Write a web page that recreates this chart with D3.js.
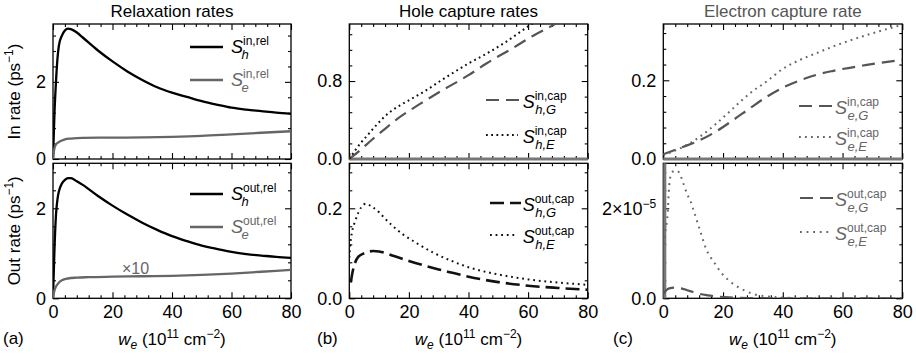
<!DOCTYPE html>
<html>
<head>
<meta charset="utf-8">
<script src="https://cdn.jsdelivr.net/npm/d3@7"></script>
<style>
  body { margin: 0; background: #fff; }
  svg text { font-family: "Liberation Sans", Arial, sans-serif; }
</style>
</head>
<body>
<svg id="chart" width="916" height="358"></svg>
<script>
// ---- data (x = w_e in 1e11 cm^-2) ----
const relInHoleX = [0, 0.5, 1, 1.5, 2, 3, 4, 5, 6, 8, 10, 15, 20, 25, 30, 35, 40, 45, 50, 55, 60, 65, 70, 75, 80];
const relInHoleY = [0, 1.2, 2.0, 2.6, 2.95, 3.2, 3.33, 3.38, 3.37, 3.28, 3.15, 2.82, 2.53, 2.27, 2.05, 1.86, 1.72, 1.61, 1.5, 1.41, 1.33, 1.28, 1.24, 1.2, 1.17];
const relInElecX = [0, 0.3, 0.6, 1, 2, 3, 4, 6, 10, 20, 30, 40, 50, 60, 70, 80];
const relInElecY = [0, 0.2, 0.31, 0.38, 0.44, 0.48, 0.51, 0.53, 0.55, 0.555, 0.56, 0.575, 0.6, 0.64, 0.68, 0.72];

const relOutHoleX = [0, 0.5, 1, 1.5, 2, 3, 4, 5, 6, 8, 10, 15, 20, 25, 30, 35, 40, 45, 50, 55, 60, 65, 70, 75, 80];
const relOutHoleY = [0, 1.1, 1.85, 2.2, 2.38, 2.55, 2.63, 2.67, 2.67, 2.6, 2.52, 2.28, 2.06, 1.86, 1.68, 1.52, 1.38, 1.27, 1.17, 1.1, 1.03, 0.98, 0.95, 0.92, 0.9];
const relOutElecX = [0, 0.3, 0.6, 1, 2, 3, 5, 8, 12, 20, 30, 40, 50, 60, 70, 80];
const relOutElecY = [0, 0.12, 0.2, 0.26, 0.35, 0.4, 0.44, 0.46, 0.47, 0.48, 0.49, 0.5, 0.52, 0.55, 0.59, 0.63]; // x10

const capInHoleGX = [0, 4, 7.5, 12, 16, 24, 31.5, 40, 46, 55, 62, 67, 80];
const capInHoleGY = [0, 0.1, 0.195, 0.31, 0.41, 0.57, 0.71, 0.86, 0.98, 1.14, 1.27, 1.35, 1.58];
const capInHoleEX = [0, 2, 4, 6, 8, 11, 14, 17, 21, 25, 31.5, 40, 46, 52, 60, 70, 80];
const capInHoleEY = [0, 0.09, 0.17, 0.24, 0.31, 0.41, 0.49, 0.55, 0.62, 0.69, 0.82, 0.98, 1.08, 1.19, 1.36, 1.55, 1.73];

const capOutHoleGX = [0.5, 1, 2, 3, 5, 8, 10, 15, 20, 25, 30, 35, 40, 50, 60, 70, 80];
const capOutHoleGY = [0.035, 0.055, 0.08, 0.092, 0.1, 0.105, 0.104, 0.094, 0.083, 0.073, 0.064, 0.056, 0.048, 0.036, 0.028, 0.023, 0.019];
const capOutHoleEX = [0, 0.5, 1, 2, 3, 4, 5.5, 7.5, 10, 12, 14.5, 18, 22, 28, 34, 40, 50, 60, 70, 80];
const capOutHoleEY = [0.09, 0.13, 0.15, 0.172, 0.19, 0.202, 0.21, 0.204, 0.191, 0.177, 0.161, 0.142, 0.125, 0.102, 0.084, 0.069, 0.053, 0.042, 0.035, 0.03];

const capInElecGX = [0, 6.7, 12.3, 17.9, 23.4, 29, 34.6, 40.2, 45.8, 51.3, 56.9, 68.1, 80];
const capInElecGY = [0.012, 0.031, 0.048, 0.071, 0.099, 0.129, 0.158, 0.182, 0.2, 0.214, 0.224, 0.239, 0.252];
const capInElecEX = [0, 6.7, 12.3, 17.9, 23.4, 29, 34.6, 40.2, 45.8, 51.3, 56.9, 68.1, 80];
const capInElecEY = [0.01, 0.031, 0.057, 0.091, 0.129, 0.167, 0.197, 0.23, 0.252, 0.269, 0.286, 0.315, 0.341];

// units of 1e-5 ps^-1
const capOutElecGX = [0, 1, 2, 4, 6, 8, 10, 12, 15, 18, 22, 26, 30, 40, 60, 80];
const capOutElecGY = [0.1, 0.18, 0.22, 0.24, 0.22, 0.18, 0.14, 0.1, 0.065, 0.04, 0.02, 0.01, 0.004, 0, 0, 0];
const capOutElecEX = [0.3, 0.7, 1.1, 1.5, 1.7, 2.0, 2.3, 3.1, 4.2, 5.4, 6.2, 7, 8, 9, 10, 12, 14.5, 17, 19.5, 23, 27, 31, 36, 41, 50, 60, 70, 80];
const capOutElecEY = [1.2, 1.5, 1.67, 1.92, 2.2, 2.52, 2.68, 2.81, 2.84, 2.79, 2.65, 2.5, 2.31, 2.18, 1.98, 1.57, 1.07, 0.8, 0.56, 0.34, 0.18, 0.08, 0.035, 0.015, 0.005, 0, 0, 0];

const xMajorTicks = [0, 20, 40, 60, 80];
const titles = ['Relaxation rates', 'Hole capture rates', 'Electron capture rate'];
const panelTags = ['(a)', '(b)', '(c)'];

const svg = d3.select('#chart');
const FONT = 17;
const TICK_FONT = 18;

const columns = [
  { x0: 53, x1: 291, title: titles[0], tag: panelTags[0], tagX: 3, titleColor: '#000' },
  { x0: 349.3, x1: 587.7, title: titles[1], tag: panelTags[1], tagX: 317, titleColor: '#000' },
  { x0: 663.3, x1: 902.3, title: titles[2], tag: panelTags[2], tagX: 613, titleColor: '#555' },
];
const rows = [{ top: 24, bottom: 159 }, { top: 163.3, bottom: 298.3 }];

const panels = [
  { col: 0, row: 0, yMax: 3.5, yMajor: [0, 2], yFmt: d => d3.format('d')(d), yMinor: 0.4,
    series: [
      { xs: relInHoleX, ys: relInHoleY, color: '#000', width: 2.3 },
      { xs: relInElecX, ys: relInElecY, color: '#666', width: 2.3 },
    ],
    legend: [
      { y: 47, lx: 190, lx2: 223, sx: 231, sup: 'in,rel', sub: 'h', color: '#000', width: 2.3, text: '#000' },
      { y: 80, lx: 190, lx2: 223, sx: 231, sup: 'in,rel', sub: 'e', color: '#666', width: 2.3, text: '#666' },
    ] },
  { col: 0, row: 1, yMax: 3.0, yMajor: [0, 2], yFmt: d => d3.format('d')(d), yMinor: 0.4, xLabels: true,
    series: [
      { xs: relOutHoleX, ys: relOutHoleY, color: '#000', width: 2.3 },
      { xs: relOutElecX, ys: relOutElecY, color: '#666', width: 2.3 },
    ],
    legend: [
      { y: 194, lx: 190, lx2: 223, sx: 231, sup: 'out,rel', sub: 'h', color: '#000', width: 2.3, text: '#000' },
      { y: 227, lx: 190, lx2: 223, sx: 231, sup: 'out,rel', sub: 'e', color: '#666', width: 2.3, text: '#666' },
    ] },
  { col: 1, row: 0, yMax: 1.385, yMajor: [0, 0.8], yFmt: d3.format('.1f'), yMinor: 0.16, baseline: true,
    series: [
      { xs: capInHoleGX, ys: capInHoleGY, color: '#555', width: 2.2, dash: '13,7' },
      { xs: capInHoleEX, ys: capInHoleEY, color: '#111', width: 2, dash: '1.8,3.4' },
    ],
    legend: [
      { y: 100, lx: 486, lx2: 520, sx: 522.7, sup: 'in,cap', sub: 'h,G', color: '#555', width: 2.2, dash: '13,7', text: '#000', big: true },
      { y: 135, lx: 486, lx2: 518, sx: 522.7, sup: 'in,cap', sub: 'h,E', color: '#111', width: 2, dash: '1.8,3.4', text: '#000', big: true },
    ] },
  { col: 1, row: 1, yMax: 0.3, yMajor: [0, 0.2], yFmt: d3.format('.1f'), yMinor: 0.04, xLabels: true,
    series: [
      { xs: capOutHoleGX, ys: capOutHoleGY, color: '#111', width: 2.6, dash: '14,6' },
      { xs: capOutHoleEX, ys: capOutHoleEY, color: '#111', width: 2, dash: '1.8,3.8' },
    ],
    legend: [
      { y: 203, lx: 490, lx2: 521, sx: 522.7, sup: 'out,cap', sub: 'h,G', color: '#111', width: 2.6, dash: '14,6', text: '#000', big: true },
      { y: 235, lx: 490, lx2: 517, sx: 522.7, sup: 'out,cap', sub: 'h,E', color: '#111', width: 2, dash: '1.8,3.8', text: '#000', big: true },
    ] },
  { col: 2, row: 0, yMax: 0.343, yMajor: [0, 0.2], yFmt: d3.format('.1f'), yMinor: 0.04, baseline: true,
    series: [
      { xs: capInElecGX, ys: capInElecGY, color: '#555', width: 2.2, dash: '13,7' },
      { xs: capInElecEX, ys: capInElecEY, color: '#666', width: 2, dash: '1.8,4.2' },
    ],
    legend: [
      { y: 106, lx: 799, lx2: 833, sx: 835, sup: 'in,cap', sub: 'e,G', color: '#555', width: 2.2, dash: '13,7', text: '#666', big: true },
      { y: 137, lx: 799, lx2: 831, sx: 835, sup: 'in,cap', sub: 'e,E', color: '#666', width: 2, dash: '1.8,4.2', text: '#666', big: true },
    ] },
  { col: 2, row: 1, yMax: 3.0, yMajor: [0, 2], yFmt: d => d === 0 ? '0.0' : '2×10', yMinor: 0.4, xLabels: true, leftGray: true,
    series: [
      { xs: capOutElecGX, ys: capOutElecGY, color: '#555', width: 2.2, dash: '13,7' },
      { xs: capOutElecEX, ys: capOutElecEY, color: '#666', width: 2, dash: '1.8,4.8' },
    ],
    legend: [
      { y: 198, lx: 800, lx2: 833, sx: 835, sup: 'out,cap', sub: 'e,G', color: '#555', width: 2.2, dash: '13,7', text: '#666', big: true },
      { y: 232, lx: 800, lx2: 831, sx: 835, sup: 'out,cap', sub: 'e,E', color: '#666', width: 2, dash: '1.8,4.8', text: '#666', big: true },
    ] },
];

function minorTicks(max, step, major) {
  const t = [];
  for (let v = step; v < max - 1e-9; v += step) {
    const r = Math.round(v * 1000) / 1000;
    if (!major.some(m => Math.abs(m - r) < 1e-6)) t.push(r);
  }
  return t;
}

function styleAxis(g) {
  g.select('.domain').remove();
  g.selectAll('line').attr('stroke', '#000').attr('stroke-width', 1.1);
  g.selectAll('text').attr('font-size', TICK_FONT).attr('fill', '#000')
    .attr('font-family', '"Liberation Sans", Arial, sans-serif');
}

panels.forEach((p, i) => {
  const c = columns[p.col];
  const r = rows[p.row];
  const x = d3.scaleLinear().domain([0, 80]).range([c.x0, c.x1]);
  const y = d3.scaleLinear().domain([0, p.yMax]).range([r.bottom, r.top]);
  const g = svg.append('g');

  const xMinor = minorTicks(80, 4, xMajorTicks);
  const yMinor = minorTicks(p.yMax, p.yMinor, p.yMajor);

  // bottom
  g.append('g').attr('transform', `translate(0,${r.bottom})`)
    .call(d3.axisBottom(x).tickValues(xMajorTicks).tickSizeInner(-6).tickSizeOuter(0).tickPadding(7)
      .tickFormat(p.xLabels ? d3.format('d') : () => ''))
    .call(styleAxis);
  g.append('g').attr('transform', `translate(0,${r.bottom})`)
    .call(d3.axisBottom(x).tickValues(xMinor).tickSizeInner(-3).tickSizeOuter(0).tickFormat(() => ''))
    .call(styleAxis);
  // top
  g.append('g').attr('transform', `translate(0,${r.top})`)
    .call(d3.axisTop(x).tickValues(xMajorTicks).tickSizeInner(-6).tickSizeOuter(0).tickFormat(() => ''))
    .call(styleAxis);
  g.append('g').attr('transform', `translate(0,${r.top})`)
    .call(d3.axisTop(x).tickValues(xMinor).tickSizeInner(-3).tickSizeOuter(0).tickFormat(() => ''))
    .call(styleAxis);
  // left
  const left = g.append('g').attr('transform', `translate(${c.x0},0)`)
    .call(d3.axisLeft(y).tickValues(p.yMajor).tickSizeInner(-6).tickSizeOuter(0).tickPadding(7).tickFormat(p.yFmt))
    .call(styleAxis);
  if (p.leftGray) {
    left.selectAll('text').filter(d => d === 2).append('tspan')
      .attr('dy', '-0.55em').attr('font-size', 12).text('−5');
  }
  g.append('g').attr('transform', `translate(${c.x0},0)`)
    .call(d3.axisLeft(y).tickValues(yMinor).tickSizeInner(-3).tickSizeOuter(0).tickFormat(() => ''))
    .call(styleAxis);
  // right
  g.append('g').attr('transform', `translate(${c.x1},0)`)
    .call(d3.axisRight(y).tickValues(p.yMajor).tickSizeInner(-6).tickSizeOuter(0).tickFormat(() => ''))
    .call(styleAxis);
  g.append('g').attr('transform', `translate(${c.x1},0)`)
    .call(d3.axisRight(y).tickValues(yMinor).tickSizeInner(-3).tickSizeOuter(0).tickFormat(() => ''))
    .call(styleAxis);

  // frame
  g.append('rect')
    .attr('x', c.x0).attr('y', r.top)
    .attr('width', c.x1 - c.x0).attr('height', r.bottom - r.top)
    .attr('fill', 'none').attr('stroke', '#000').attr('stroke-width', 1.3);

  if (p.baseline) {
    g.append('line')
      .attr('x1', x(0)).attr('x2', x(80)).attr('y1', y(0)).attr('y2', y(0))
      .attr('stroke', '#777').attr('stroke-width', 3);
  }
  if (p.leftGray) {
    g.append('line')
      .attr('x1', x(0) + 1.5).attr('x2', x(0) + 1.5).attr('y1', y(0)).attr('y2', y(p.yMax))
      .attr('stroke', '#777').attr('stroke-width', 3);
  }

  // clip
  const clipId = 'clip' + i;
  svg.append('clipPath').attr('id', clipId).append('rect')
    .attr('x', c.x0).attr('y', r.top).attr('width', c.x1 - c.x0).attr('height', r.bottom - r.top);

  const plot = g.append('g').attr('clip-path', `url(#${clipId})`);
  p.series.forEach(s => {
    const pts = s.xs.map((v, k) => [v, s.ys[k]]);
    plot.append('path')
      .datum(pts)
      .attr('fill', 'none')
      .attr('stroke', s.color)
      .attr('stroke-width', s.width)
      .attr('stroke-dasharray', s.dash || null)
      .attr('d', d3.line().x(d => x(d[0])).y(d => y(d[1])).curve(d3.curveMonotoneX));
  });

  // legend
  p.legend.forEach(l => {
    g.append('line')
      .attr('x1', l.lx).attr('x2', l.lx2).attr('y1', l.y).attr('y2', l.y)
      .attr('stroke', l.color).attr('stroke-width', l.width)
      .attr('stroke-dasharray', l.dash || null);
    const sBase = l.big ? 8 : 6;
    const supBase = l.big ? 0 : -2;
    const subBase = l.big ? 14 : 12;
    g.append('text').attr('x', l.sx).attr('y', l.y + sBase)
      .attr('font-size', 18).attr('font-style', 'italic').attr('fill', l.text).text('S');
    g.append('text').attr('x', l.sx + 12).attr('y', l.y + supBase)
      .attr('font-size', 12).attr('fill', l.text).text(l.sup);
    g.append('text').attr('x', l.sx + (l.big ? 12.5 : 10.5)).attr('y', l.y + subBase)
      .attr('font-size', 13).attr('font-style', 'italic').attr('fill', l.text).text(l.sub);
  });
});

// ×10 marker in panel (a) lower
svg.append('text').attr('x', 122).attr('y', 274)
  .attr('font-size', 16).attr('fill', '#666').text('×10');

// titles, x labels, tags
columns.forEach(c => {
  const mid = (c.x0 + c.x1) / 2;
  svg.append('text').attr('x', mid).attr('y', 16.5)
    .attr('text-anchor', 'middle').attr('font-size', FONT).attr('fill', c.titleColor).text(c.title);

  const t = svg.append('text').attr('x', mid).attr('y', 345)
    .attr('text-anchor', 'middle').attr('font-size', FONT).attr('fill', '#000');
  t.append('tspan').attr('font-style', 'italic').text('w');
  t.append('tspan').attr('font-style', 'italic').attr('font-size', 12).attr('dy', 4).text('e');
  t.append('tspan').attr('dy', -4).text(' (10');
  t.append('tspan').attr('font-size', 12).attr('dy', -7).text('11');
  t.append('tspan').attr('dy', 7).text(' cm');
  t.append('tspan').attr('font-size', 12).attr('dy', -7).text('−2');
  t.append('tspan').attr('dy', 7).text(')');

  svg.append('text').attr('x', c.tagX).attr('y', 344)
    .attr('font-size', FONT).attr('fill', '#000').text(c.tag);
});

// y axis titles
[['In rate (ps', rows[0]], ['Out rate (ps', rows[1]]].forEach(([label, r]) => {
  const t = svg.append('text')
    .attr('transform', `translate(20,${(r.top + r.bottom) / 2}) rotate(-90)`)
    .attr('text-anchor', 'middle').attr('font-size', FONT).attr('fill', '#000');
  t.append('tspan').text(label);
  t.append('tspan').attr('font-size', 12).attr('dy', -7).text('−1');
  t.append('tspan').attr('dy', 7).text(')');
});
</script>
</body>
</html>
